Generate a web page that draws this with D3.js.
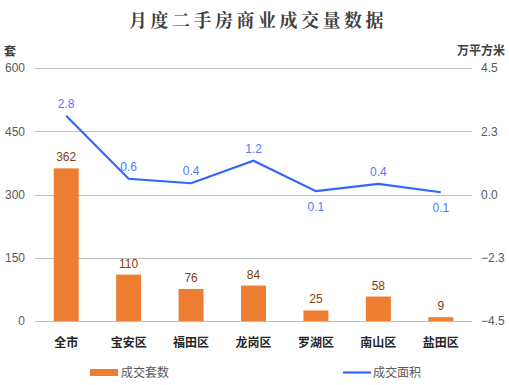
<!DOCTYPE html>
<html>
<head>
<meta charset="utf-8">
<script src="https://cdn.jsdelivr.net/npm/d3@7"></script>
<style>
  body { margin: 0; background: #fff; }
  svg text { font-family: "Noto Sans CJK SC", "Noto Sans", sans-serif; }
</style>
</head>
<body>
<svg id="chart" width="509" height="385"></svg>
<script>
'use strict';

var districts = ['全市', '宝安区', '福田区', '龙岗区', '罗湖区', '南山区', '盐田区'],
    units = [362, 110, 76, 84, 25, 58, 9],
    area = [2.8, 0.56, 0.4, 1.2, 0.12, 0.38, 0.08],
    leftTicks = [0, 150, 300, 450, 600],
    rightTicks = [-4.5, -2.25, 0, 2.25, 4.5];

(function () {
  var svg = d3.select('#chart'),
      mLeft = 35, mRight = 472, mTop = 68, mBottom = 321;

  var x = d3.scaleBand().domain(districts).range([mLeft, mRight]).paddingInner(0.6).paddingOuter(0.3),
      yL = d3.scaleLinear().domain([0, 600]).range([mBottom, mTop]),
      yR = d3.scaleLinear().domain([-4.5, 4.5]).range([mBottom, mTop]);

  var cx = function (d) { return x(d) + x.bandwidth() / 2; };

  // title
  svg.append('text')
      .attr('x', 258).attr('y', 27)
      .attr('text-anchor', 'middle')
      .attr('font-size', 18).attr('font-weight', 'bold')
      .attr('letter-spacing', 3.5)
      .attr('fill', '#404040')
      .style('font-family', '"Noto Serif CJK SC", "Noto Sans CJK SC", serif')
      .text('月度二手房商业成交量数据');

  // gridlines
  svg.append('g').selectAll('line')
      .data(leftTicks)
    .enter().append('line')
      .attr('x1', mLeft).attr('x2', mRight)
      .attr('y1', function (d) { return Math.round(yL(d)) + 0.5; })
      .attr('y2', function (d) { return Math.round(yL(d)) + 0.5; })
      .attr('stroke', '#bfbfbf').attr('stroke-width', 1);

  // left axis
  var gL = svg.append('g')
      .attr('transform', 'translate(' + (mLeft - 10) + ',0)')
      .call(d3.axisLeft(yL).tickValues(leftTicks).tickSize(0).tickPadding(0));
  gL.select('.domain').remove();
  gL.selectAll('text').attr('font-size', 12).attr('fill', '#595959')
      .style('font-family', '"Liberation Sans", sans-serif');

  // right axis
  var gR = svg.append('g')
      .attr('transform', 'translate(' + (mRight + 9) + ',0)')
      .call(d3.axisRight(yR).tickValues(rightTicks).tickSize(0).tickPadding(0).tickFormat(d3.format('.1f')));
  gR.select('.domain').remove();
  gR.selectAll('text').attr('font-size', 12).attr('fill', '#595959')
      .style('font-family', '"Liberation Sans", sans-serif');

  // axis titles
  svg.append('text').attr('x', 4).attr('y', 56)
      .attr('font-size', 12).attr('font-weight', 'bold').attr('fill', '#404040')
      .text('套');
  svg.append('text').attr('x', 505).attr('y', 55).attr('text-anchor', 'end')
      .attr('font-size', 12).attr('font-weight', 'bold').attr('fill', '#404040')
      .text('万平方米');

  // category labels
  svg.append('g').selectAll('text')
      .data(districts)
    .enter().append('text')
      .attr('x', cx).attr('y', 347)
      .attr('text-anchor', 'middle')
      .attr('font-size', 12).attr('font-weight', 'bold').attr('fill', '#262626')
      .text(function (d) { return d; });

  // bars
  svg.append('g').selectAll('rect')
      .data(units)
    .enter().append('rect')
      .attr('x', function (d, i) { return x(districts[i]); })
      .attr('width', x.bandwidth())
      .attr('y', function (d) { return yL(d); })
      .attr('height', function (d) { return yL(0) - yL(d); })
      .attr('fill', '#ed7d31');

  svg.append('g').selectAll('text')
      .data(units)
    .enter().append('text')
      .attr('x', function (d, i) { return cx(districts[i]); })
      .attr('y', function (d) { return yL(d) - 7; })
      .attr('text-anchor', 'middle')
      .attr('font-size', 12).attr('fill', '#843c0c')
      .style('font-family', '"Liberation Sans", sans-serif')
      .text(function (d) { return d; });

  // area line
  var line = d3.line()
      .x(function (d, i) { return cx(districts[i]); })
      .y(function (d) { return yR(d); });

  svg.append('path')
      .datum(area)
      .attr('d', line)
      .attr('fill', 'none')
      .attr('stroke', '#2f66ff')
      .attr('stroke-width', 2.2);

  var below = [false, false, false, false, true, false, true];
  svg.append('g').selectAll('text')
      .data(area)
    .enter().append('text')
      .attr('x', function (d, i) { return cx(districts[i]); })
      .attr('y', function (d, i) { return below[i] ? yR(d) + 20 : yR(d) - 8; })
      .attr('text-anchor', 'middle')
      .attr('font-size', 12).attr('fill', '#4d7cff')
      .style('font-family', '"Liberation Sans", sans-serif')
      .text(function (d) { return d.toFixed(1); });

  // legend
  svg.append('rect').attr('x', 90).attr('y', 369).attr('width', 28).attr('height', 7).attr('fill', '#ed7d31');
  svg.append('text').attr('x', 121).attr('y', 377)
      .attr('font-size', 12).attr('fill', '#595959').text('成交套数');
  svg.append('line').attr('x1', 343).attr('x2', 371).attr('y1', 372.5).attr('y2', 372.5)
      .attr('stroke', '#2f66ff').attr('stroke-width', 2.2);
  svg.append('text').attr('x', 373).attr('y', 377)
      .attr('font-size', 12).attr('fill', '#595959').text('成交面积');
})();
</script>
</body>
</html>
